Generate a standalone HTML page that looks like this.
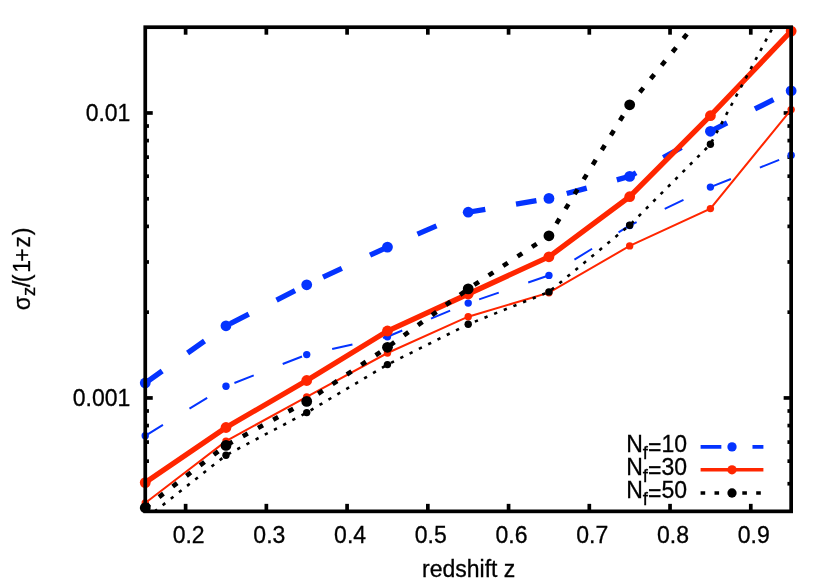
<!DOCTYPE html>
<html><head><meta charset="utf-8"><title>plot</title>
<style>html,body{margin:0;padding:0;background:#fff;}body{width:830px;height:581px;overflow:hidden;font-family:"Liberation Sans",sans-serif;}svg{display:block;will-change:transform;}</style>
</head><body>
<svg width="830" height="581" viewBox="0 0 830 581">
<defs><clipPath id="clip"><rect x="145.25" y="27.2" width="645.9" height="484.15000000000003"/></clipPath></defs>
<rect width="830" height="581" fill="#fff"/>
<g stroke-linecap="butt">
<line x1="185.62" y1="511.35" x2="185.62" y2="503.85" stroke="#000" stroke-width="3.7"/>
<line x1="185.62" y1="27.2" x2="185.62" y2="34.7" stroke="#000" stroke-width="3.7"/>
<line x1="266.36" y1="511.35" x2="266.36" y2="503.85" stroke="#000" stroke-width="3.7"/>
<line x1="266.36" y1="27.2" x2="266.36" y2="34.7" stroke="#000" stroke-width="3.7"/>
<line x1="347.09" y1="511.35" x2="347.09" y2="503.85" stroke="#000" stroke-width="3.7"/>
<line x1="347.09" y1="27.2" x2="347.09" y2="34.7" stroke="#000" stroke-width="3.7"/>
<line x1="427.83" y1="511.35" x2="427.83" y2="503.85" stroke="#000" stroke-width="3.7"/>
<line x1="427.83" y1="27.2" x2="427.83" y2="34.7" stroke="#000" stroke-width="3.7"/>
<line x1="508.57" y1="511.35" x2="508.57" y2="503.85" stroke="#000" stroke-width="3.7"/>
<line x1="508.57" y1="27.2" x2="508.57" y2="34.7" stroke="#000" stroke-width="3.7"/>
<line x1="589.31" y1="511.35" x2="589.31" y2="503.85" stroke="#000" stroke-width="3.7"/>
<line x1="589.31" y1="27.2" x2="589.31" y2="34.7" stroke="#000" stroke-width="3.7"/>
<line x1="670.04" y1="511.35" x2="670.04" y2="503.85" stroke="#000" stroke-width="3.7"/>
<line x1="670.04" y1="27.2" x2="670.04" y2="34.7" stroke="#000" stroke-width="3.7"/>
<line x1="750.78" y1="511.35" x2="750.78" y2="503.85" stroke="#000" stroke-width="3.7"/>
<line x1="750.78" y1="27.2" x2="750.78" y2="34.7" stroke="#000" stroke-width="3.7"/>
<line x1="145.25" y1="483.73" x2="148.95" y2="483.73" stroke="#000" stroke-width="3.7"/>
<line x1="791.15" y1="483.73" x2="787.4499999999999" y2="483.73" stroke="#000" stroke-width="3.7"/>
<line x1="145.25" y1="461.17" x2="148.95" y2="461.17" stroke="#000" stroke-width="3.7"/>
<line x1="791.15" y1="461.17" x2="787.4499999999999" y2="461.17" stroke="#000" stroke-width="3.7"/>
<line x1="145.25" y1="442.09" x2="148.95" y2="442.09" stroke="#000" stroke-width="3.7"/>
<line x1="791.15" y1="442.09" x2="787.4499999999999" y2="442.09" stroke="#000" stroke-width="3.7"/>
<line x1="145.25" y1="425.57" x2="148.95" y2="425.57" stroke="#000" stroke-width="3.7"/>
<line x1="791.15" y1="425.57" x2="787.4499999999999" y2="425.57" stroke="#000" stroke-width="3.7"/>
<line x1="145.25" y1="410.99" x2="148.95" y2="410.99" stroke="#000" stroke-width="3.7"/>
<line x1="791.15" y1="410.99" x2="787.4499999999999" y2="410.99" stroke="#000" stroke-width="3.7"/>
<line x1="145.25" y1="397.95" x2="152.75" y2="397.95" stroke="#000" stroke-width="3.7"/>
<line x1="791.15" y1="397.95" x2="783.65" y2="397.95" stroke="#000" stroke-width="3.7"/>
<line x1="145.25" y1="312.17" x2="148.95" y2="312.17" stroke="#000" stroke-width="3.7"/>
<line x1="791.15" y1="312.17" x2="787.4499999999999" y2="312.17" stroke="#000" stroke-width="3.7"/>
<line x1="145.25" y1="261.99" x2="148.95" y2="261.99" stroke="#000" stroke-width="3.7"/>
<line x1="791.15" y1="261.99" x2="787.4499999999999" y2="261.99" stroke="#000" stroke-width="3.7"/>
<line x1="145.25" y1="226.38" x2="148.95" y2="226.38" stroke="#000" stroke-width="3.7"/>
<line x1="791.15" y1="226.38" x2="787.4499999999999" y2="226.38" stroke="#000" stroke-width="3.7"/>
<line x1="145.25" y1="198.77" x2="148.95" y2="198.77" stroke="#000" stroke-width="3.7"/>
<line x1="791.15" y1="198.77" x2="787.4499999999999" y2="198.77" stroke="#000" stroke-width="3.7"/>
<line x1="145.25" y1="176.20" x2="148.95" y2="176.20" stroke="#000" stroke-width="3.7"/>
<line x1="791.15" y1="176.20" x2="787.4499999999999" y2="176.20" stroke="#000" stroke-width="3.7"/>
<line x1="145.25" y1="157.13" x2="148.95" y2="157.13" stroke="#000" stroke-width="3.7"/>
<line x1="791.15" y1="157.13" x2="787.4499999999999" y2="157.13" stroke="#000" stroke-width="3.7"/>
<line x1="145.25" y1="140.60" x2="148.95" y2="140.60" stroke="#000" stroke-width="3.7"/>
<line x1="791.15" y1="140.60" x2="787.4499999999999" y2="140.60" stroke="#000" stroke-width="3.7"/>
<line x1="145.25" y1="126.02" x2="148.95" y2="126.02" stroke="#000" stroke-width="3.7"/>
<line x1="791.15" y1="126.02" x2="787.4499999999999" y2="126.02" stroke="#000" stroke-width="3.7"/>
<line x1="145.25" y1="112.98" x2="152.75" y2="112.98" stroke="#000" stroke-width="3.7"/>
<line x1="791.15" y1="112.98" x2="783.65" y2="112.98" stroke="#000" stroke-width="3.7"/>
</g>
<g>
<polyline points="145.25,383.00 225.99,325.80 306.72,284.80 387.46,247.10 468.20,212.20 548.94,198.40 629.67,176.40 710.41,131.30 791.15,90.80" fill="none" stroke="#0433ff" stroke-width="5.3" stroke-linejoin="miter" clip-path="url(#clip)" stroke-dasharray="20.75 31.13" stroke-dashoffset="0"/>
<circle cx="145.25" cy="383.00" r="5.4" fill="#0433ff"/>
<circle cx="225.99" cy="325.80" r="5.4" fill="#0433ff"/>
<circle cx="306.72" cy="284.80" r="5.4" fill="#0433ff"/>
<circle cx="387.46" cy="247.10" r="5.4" fill="#0433ff"/>
<circle cx="468.20" cy="212.20" r="5.4" fill="#0433ff"/>
<circle cx="548.94" cy="198.40" r="5.4" fill="#0433ff"/>
<circle cx="629.67" cy="176.40" r="5.4" fill="#0433ff"/>
<circle cx="710.41" cy="131.30" r="5.4" fill="#0433ff"/>
<circle cx="791.15" cy="90.80" r="5.4" fill="#0433ff"/>
<polyline points="145.25,435.80 225.99,386.30 306.72,354.60 387.46,336.70 468.20,303.10 548.94,275.40 629.67,225.50 710.41,187.10 791.15,155.20" fill="none" stroke="#0433ff" stroke-width="2.0" stroke-linejoin="miter" clip-path="url(#clip)" stroke-dasharray="20.75 31.13" stroke-dashoffset="0"/>
<circle cx="145.25" cy="435.80" r="3.7" fill="#0433ff"/>
<circle cx="225.99" cy="386.30" r="3.7" fill="#0433ff"/>
<circle cx="306.72" cy="354.60" r="3.7" fill="#0433ff"/>
<circle cx="387.46" cy="336.70" r="3.7" fill="#0433ff"/>
<circle cx="468.20" cy="303.10" r="3.7" fill="#0433ff"/>
<circle cx="548.94" cy="275.40" r="3.7" fill="#0433ff"/>
<circle cx="629.67" cy="225.50" r="3.7" fill="#0433ff"/>
<circle cx="710.41" cy="187.10" r="3.7" fill="#0433ff"/>
<circle cx="791.15" cy="155.20" r="3.7" fill="#0433ff"/>
<polyline points="145.25,482.60 225.99,427.50 306.72,380.50 387.46,331.00 468.20,294.00 548.94,256.80 629.67,196.70 710.41,115.70 791.15,31.10" fill="none" stroke="#ff2600" stroke-width="5.3" stroke-linejoin="miter" clip-path="url(#clip)"/>
<circle cx="145.25" cy="482.60" r="5.4" fill="#ff2600"/>
<circle cx="225.99" cy="427.50" r="5.4" fill="#ff2600"/>
<circle cx="306.72" cy="380.50" r="5.4" fill="#ff2600"/>
<circle cx="387.46" cy="331.00" r="5.4" fill="#ff2600"/>
<circle cx="468.20" cy="294.00" r="5.4" fill="#ff2600"/>
<circle cx="548.94" cy="256.80" r="5.4" fill="#ff2600"/>
<circle cx="629.67" cy="196.70" r="5.4" fill="#ff2600"/>
<circle cx="710.41" cy="115.70" r="5.4" fill="#ff2600"/>
<circle cx="791.15" cy="31.10" r="5.4" fill="#ff2600"/>
<polyline points="145.25,503.00 225.99,441.10 306.72,396.90 387.46,353.00 468.20,316.70 548.94,292.70 629.67,245.90 710.41,208.60 791.15,109.60" fill="none" stroke="#ff2600" stroke-width="2.0" stroke-linejoin="miter" clip-path="url(#clip)"/>
<circle cx="145.25" cy="503.00" r="3.7" fill="#ff2600"/>
<circle cx="225.99" cy="441.10" r="3.7" fill="#ff2600"/>
<circle cx="306.72" cy="396.90" r="3.7" fill="#ff2600"/>
<circle cx="387.46" cy="353.00" r="3.7" fill="#ff2600"/>
<circle cx="468.20" cy="316.70" r="3.7" fill="#ff2600"/>
<circle cx="548.94" cy="292.70" r="3.7" fill="#ff2600"/>
<circle cx="629.67" cy="245.90" r="3.7" fill="#ff2600"/>
<circle cx="710.41" cy="208.60" r="3.7" fill="#ff2600"/>
<circle cx="791.15" cy="109.60" r="3.7" fill="#ff2600"/>
<polyline points="145.25,507.70 225.99,445.40 306.72,401.40 387.46,347.30 468.20,288.90 548.94,235.80 629.67,104.80 710.41,5.20" fill="none" stroke="#000000" stroke-width="4.6" stroke-linejoin="miter" clip-path="url(#clip)" stroke-dasharray="5.6 11.698" stroke-dashoffset="-0.1"/>
<circle cx="145.25" cy="507.70" r="5.4" fill="#000000"/>
<circle cx="225.99" cy="445.40" r="5.4" fill="#000000"/>
<circle cx="306.72" cy="401.40" r="5.4" fill="#000000"/>
<circle cx="387.46" cy="347.30" r="5.4" fill="#000000"/>
<circle cx="468.20" cy="288.90" r="5.4" fill="#000000"/>
<circle cx="548.94" cy="235.80" r="5.4" fill="#000000"/>
<circle cx="629.67" cy="104.80" r="5.4" fill="#000000"/>
<polyline points="145.25,518.90 225.99,455.20 306.72,412.60 387.46,364.60 468.20,324.30 548.94,291.90 629.67,225.20 710.41,144.30 791.15,-6.90" fill="none" stroke="#000000" stroke-width="2.6" stroke-linejoin="miter" clip-path="url(#clip)" stroke-dasharray="3.3 7.08" stroke-dashoffset="-1.42"/>
<circle cx="225.99" cy="455.20" r="3.7" fill="#000000"/>
<circle cx="306.72" cy="412.60" r="3.7" fill="#000000"/>
<circle cx="387.46" cy="364.60" r="3.7" fill="#000000"/>
<circle cx="468.20" cy="324.30" r="3.7" fill="#000000"/>
<circle cx="548.94" cy="291.90" r="3.7" fill="#000000"/>
<circle cx="629.67" cy="225.20" r="3.7" fill="#000000"/>
<circle cx="710.41" cy="144.30" r="3.7" fill="#000000"/>
<line x1="700.6" y1="446.9" x2="763.4" y2="446.9" stroke="#0433ff" stroke-width="3.6" stroke-dasharray="20.75 31.13"/>
<circle cx="732.0" cy="446.9" r="4.65" fill="#0433ff"/>
<line x1="700.6" y1="469.8" x2="763.4" y2="469.8" stroke="#ff2600" stroke-width="3.6"/>
<circle cx="732.0" cy="469.8" r="4.65" fill="#ff2600"/>
<line x1="700.6" y1="493.0" x2="763.4" y2="493.0" stroke="#000000" stroke-width="3.6" stroke-dasharray="4.6 9.3"/>
<circle cx="732.0" cy="493.0" r="4.65" fill="#000000"/>
</g>
<rect x="145.25" y="27.2" width="645.9" height="484.15000000000003" fill="none" stroke="#000" stroke-width="3.7"/>
<g font-family="'Liberation Sans', sans-serif" font-size="23" fill="#000" stroke="#000" stroke-width="0.3">
<text x="188.62" y="542.6" text-anchor="middle">0.2</text>
<text x="269.36" y="542.6" text-anchor="middle">0.3</text>
<text x="350.09" y="542.6" text-anchor="middle">0.4</text>
<text x="430.83" y="542.6" text-anchor="middle">0.5</text>
<text x="511.57" y="542.6" text-anchor="middle">0.6</text>
<text x="592.31" y="542.6" text-anchor="middle">0.7</text>
<text x="673.04" y="542.6" text-anchor="middle">0.8</text>
<text x="753.78" y="542.6" text-anchor="middle">0.9</text>
<text x="130.4" y="121.18" text-anchor="end">0.01</text>
<text x="130.4" y="406.15" text-anchor="end">0.001</text>
<text x="468.7" y="576.6" text-anchor="middle">redshift z</text>
<text x="626.2" y="451.6">N<tspan dy="6.9" font-size="18.4">f</tspan><tspan dy="-4.0">=</tspan><tspan dy="-2.9">10</tspan></text>
<text x="626.2" y="474.8">N<tspan dy="6.9" font-size="18.4">f</tspan><tspan dy="-4.0">=</tspan><tspan dy="-2.9">30</tspan></text>
<text x="626.2" y="498.0">N<tspan dy="6.9" font-size="18.4">f</tspan><tspan dy="-4.0">=</tspan><tspan dy="-2.9">50</tspan></text>
<text transform="translate(29.6,310.3) rotate(-90)" x="0" y="0">σ<tspan dy="5.7" font-size="18.4">z</tspan><tspan dy="-5.7">/</tspan><tspan dx="-1.7">(</tspan><tspan dx="1.7">1</tspan><tspan dx="-1.8">+</tspan><tspan dx="1.0">z</tspan><tspan dx="0.7">)</tspan></text>
</g>
</svg>
</body></html>
